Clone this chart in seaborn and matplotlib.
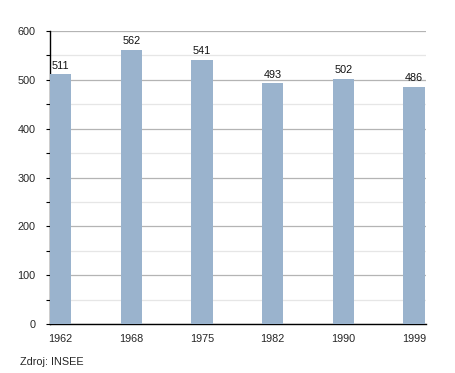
import matplotlib

matplotlib.use("Agg")
import matplotlib.pyplot as plt
import pandas as pd
import seaborn as sns
from matplotlib.ticker import MultipleLocator

# Data
years = ["1962", "1968", "1975", "1982", "1990", "1999"]
population = [511, 562, 541, 493, 502, 486]
source_note = "Zdroj: INSEE"

df = pd.DataFrame({"year": years, "population": population})

sns.set_theme(style="white")
plt.rcParams["font.family"] = ["Liberation Sans", "DejaVu Sans"]

fig = plt.figure(figsize=(4.55, 3.73), dpi=100)
ax = fig.add_axes([50 / 455, 1 - 324 / 373, 376 / 455, 293 / 373])

sns.barplot(
    data=df,
    x="year",
    y="population",
    color="#9ab3cd",
    saturation=1,
    width=0.3,
    linewidth=0,
    edgecolor="none",
    ax=ax,
    zorder=3,
)

# Value labels above bars
for i, v in enumerate(population):
    ax.text(i, v + 7, str(v), ha="center", va="bottom", fontsize=7.8, color="#111111")

ax.set_xlim(-0.15, 5.17)
ax.set_ylim(0, 600)
ax.yaxis.set_major_locator(MultipleLocator(100))
ax.yaxis.set_minor_locator(MultipleLocator(50))
ax.grid(which="major", axis="y", color="#b4b4b4", linewidth=0.9, zorder=0)
ax.grid(which="minor", axis="y", color="#e6e6e6", linewidth=0.9, zorder=0)
ax.set_axisbelow(True)

for side in ["top", "right"]:
    ax.spines[side].set_visible(False)
for side in ["left", "bottom"]:
    ax.spines[side].set_color("black")
    ax.spines[side].set_linewidth(1.0)

ax.tick_params(axis="y", which="major", left=True, length=3, width=0.8,
               color="black", labelsize=7.8, pad=7.5)
ax.tick_params(axis="y", which="minor", left=True, length=3, width=0.8, color="black")
ax.tick_params(axis="x", bottom=False, labelsize=7.8, pad=1)
ax.set_xlabel("")
ax.set_ylabel("")

fig.text(20 / 455, 1 - 362 / 373, source_note, fontsize=7.8, va="center", ha="left")

fig.savefig("out.png", dpi=100)
plt.close(fig)
